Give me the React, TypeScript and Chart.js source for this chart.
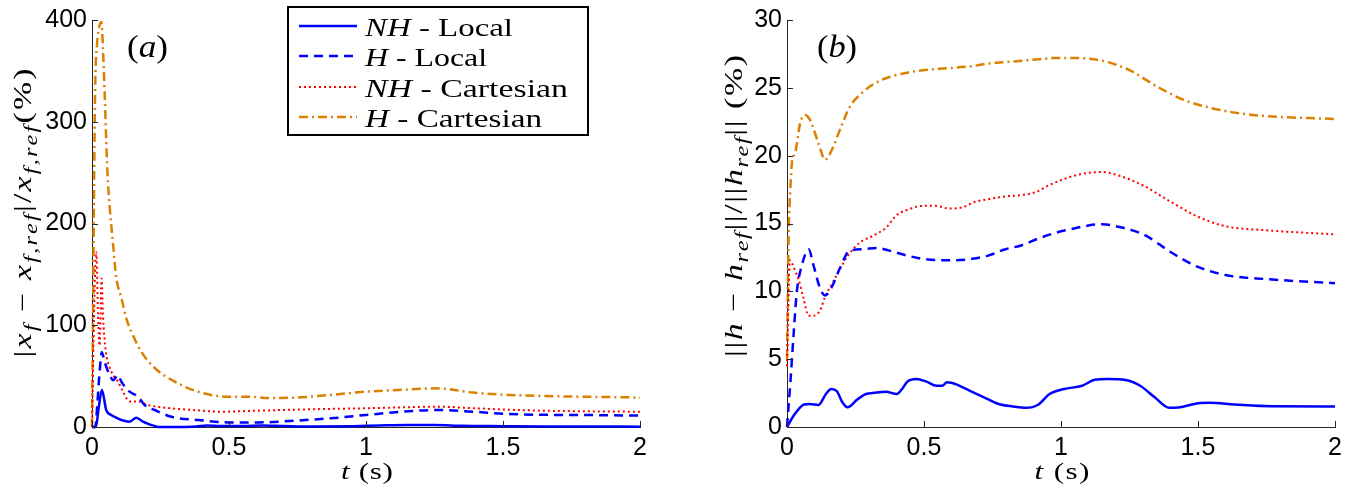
import React, { useEffect, useRef } from 'react';
import { Chart, registerables } from 'chart.js';
Chart.register(...registerables);

const BLUE = '#0000FF';
const RED = '#FF0000';
const ORANGE = '#DB8000';
const AXIS = '#262626';
const SANS = '"Liberation Sans", Arial, Helvetica, sans-serif';
const SERIF = '"Liberation Serif", "Times New Roman", serif';

const xTicks = [0, 0.5, 1, 1.5, 2];
const aYTicks = [0, 100, 200, 300, 400];
const bYTicks = [0, 5, 10, 15, 20, 25, 30];

const seriesNames = ['NH - Local', 'H - Local', 'NH - Cartesian', 'H - Cartesian'];

// ---------- Panel (a): |x_f - x_f,ref| / x_f,ref (%) ----------
const aNHLocalT = [0, 0.014, 0.025, 0.036, 0.052, 0.07, 0.09, 0.107, 0.137, 0.162, 0.186, 0.21, 0.229, 0.24, 0.3, 0.38, 0.42, 0.47, 0.55, 0.62, 0.7, 0.8, 0.95, 1.05, 1.15, 1.25, 1.35, 1.5, 1.65, 1.8, 2.0];
const aNHLocalV = [0, 0, 20, 36.4, 16.7, 11.8, 9, 6.9, 5.2, 9.2, 5.2, 2.6, 1, 0, 0, 0.5, 1.5, 1, 1, 1.5, 1, 0.5, 0.8, 1.5, 2, 2, 1.2, 0.8, 0.5, 0.5, 0.3];

const aHLocalT = [0, 0.012, 0.02, 0.028, 0.036, 0.045, 0.055, 0.065, 0.077, 0.095, 0.107, 0.137, 0.168, 0.192, 0.229, 0.29, 0.387, 0.496, 0.608, 0.738, 0.869, 1.0, 1.13, 1.26, 1.39, 1.52, 1.65, 1.78, 2.0];
const aHLocalV = [0, 0, 25, 55, 73.5, 65, 57, 51, 46, 51, 44.6, 34.7, 29.8, 21.6, 16.7, 10, 6.9, 4.5, 4.5, 6.2, 8.5, 11.8, 15, 16.7, 15, 12.8, 12, 11.8, 11.2];

const aNHCartT = [0, 0.006, 0.011, 0.016, 0.022, 0.028, 0.035, 0.04, 0.05, 0.065, 0.08, 0.095, 0.113, 0.137, 0.168, 0.204, 0.29, 0.38, 0.47, 0.6, 0.738, 0.87, 1.0, 1.13, 1.26, 1.39, 1.52, 1.65, 1.78, 2.0];
const aNHCartV = [0, 90, 150, 172, 110, 80, 146, 110, 75, 58, 50, 44.6, 34.7, 25, 25, 21.6, 18.4, 16.5, 15, 16, 17, 17.8, 18.4, 19.3, 20, 18.5, 17, 16, 15.5, 15];

const aHCartT = [0, 0.004, 0.008, 0.012, 0.018, 0.024, 0.034, 0.04, 0.046, 0.052, 0.058, 0.065, 0.077, 0.089, 0.107, 0.125, 0.143, 0.18, 0.229, 0.302, 0.387, 0.496, 0.569, 0.65, 0.738, 0.869, 1.0, 1.13, 1.26, 1.39, 1.52, 1.65, 1.78, 2.0];
const aHCartV = [0, 120, 250, 340, 375, 390, 398, 372, 330, 281, 241, 215, 179, 146, 127, 107, 94, 74, 58, 44.6, 34.7, 29.8, 29.8, 28.5, 28.8, 31.5, 34.7, 36.5, 38, 33.8, 31.5, 30.5, 29.8, 29];

// ---------- Panel (b): ||h - h_ref|| / ||h_ref|| (%) ----------
const bNHLocalT = [0, 0.029, 0.062, 0.082, 0.115, 0.142, 0.162, 0.182, 0.202, 0.221, 0.255, 0.288, 0.321, 0.361, 0.4, 0.42, 0.44, 0.473, 0.507, 0.546, 0.566, 0.584, 0.62, 0.666, 0.719, 0.772, 0.825, 0.871, 0.918, 0.958, 1.011, 1.077, 1.123, 1.17, 1.236, 1.289, 1.342, 1.395, 1.435, 1.501, 1.541, 1.634, 1.767, 2.0];
const bNHLocalV = [0, 0.97, 1.66, 1.7, 1.63, 2.43, 2.8, 2.63, 1.83, 1.46, 2.0, 2.43, 2.53, 2.6, 2.43, 2.8, 3.36, 3.53, 3.36, 3.04, 3.04, 3.29, 3.12, 2.68, 2.19, 1.7, 1.51, 1.41, 1.66, 2.43, 2.8, 3.04, 3.48, 3.53, 3.46, 3.04, 2.19, 1.41, 1.46, 1.75, 1.78, 1.66, 1.53, 1.51];

const bHLocalT = [0, 0.012, 0.024, 0.036, 0.054, 0.079, 0.097, 0.121, 0.139, 0.163, 0.193, 0.229, 0.278, 0.326, 0.374, 0.435, 0.495, 0.556, 0.616, 0.676, 0.737, 0.797, 0.857, 0.918, 0.978, 1.04, 1.1, 1.15, 1.2, 1.3, 1.4, 1.45, 1.5, 1.6, 1.75, 2.0];
const bHLocalV = [0, 3.2, 6.8, 10, 11.9, 13.1, 11.9, 10.2, 9.7, 10.3, 11.7, 13.0, 13.1, 13.2, 13.0, 12.65, 12.4, 12.3, 12.3, 12.4, 12.65, 13.1, 13.4, 13.9, 14.3, 14.6, 14.85, 14.95, 14.8, 14.2, 12.9, 12.3, 11.8, 11.2, 10.9, 10.6];

const bNHCartT = [0, 0.005, 0.01, 0.02, 0.03, 0.042, 0.06, 0.079, 0.097, 0.121, 0.139, 0.163, 0.187, 0.223, 0.266, 0.314, 0.362, 0.399, 0.447, 0.495, 0.543, 0.592, 0.64, 0.688, 0.737, 0.797, 0.857, 0.906, 0.954, 1.0, 1.063, 1.15, 1.2, 1.3, 1.4, 1.5, 1.6, 1.75, 2.0];
const bNHCartV = [4.5, 9, 12.3, 12.0, 11.5, 10.9, 9.5, 8.2, 8.2, 8.6, 9.6, 10.5, 11.4, 12.65, 13.6, 14.1, 14.7, 15.6, 16.06, 16.3, 16.3, 16.1, 16.2, 16.6, 16.8, 17.0, 17.1, 17.3, 17.8, 18.2, 18.6, 18.8, 18.6, 17.8, 16.6, 15.5, 14.8, 14.5, 14.2];

const bHCartT = [0, 0.006, 0.012, 0.018, 0.03, 0.048, 0.066, 0.085, 0.115, 0.139, 0.163, 0.193, 0.229, 0.278, 0.326, 0.374, 0.435, 0.495, 0.556, 0.616, 0.676, 0.737, 0.797, 0.857, 0.918, 0.978, 1.05, 1.15, 1.25, 1.35, 1.45, 1.55, 1.7, 2.0];
const bHCartV = [5, 14.1, 17.5, 19.5, 20.2, 22.4, 23.0, 22.6, 20.9, 19.7, 20.4, 21.9, 23.6, 24.7, 25.4, 25.8, 26.1, 26.3, 26.4, 26.5, 26.6, 26.8, 26.9, 27.0, 27.1, 27.2, 27.2, 27.0, 26.3, 25.1, 24.1, 23.5, 23.0, 22.7];

// ---------- styles ----------
const STYLES = [
  { color: BLUE, dash: [] as number[], width: 2.5 },
  { color: BLUE, dash: [9, 6], width: 2.5 },
  { color: RED, dash: [2, 3], width: 2 },
  { color: ORANGE, dash: [9, 4, 2, 4], width: 2.5 },
];

type Seg = { t: string; it?: boolean; sub?: boolean };

function fontFor(seg: Seg, size: number) {
  const s = seg.sub ? size * 0.72 : size;
  return `${seg.it ? 'italic ' : ''}${s}px ${SERIF}`;
}

// draws mixed italic/upright/subscript text; glyphs are widened a little (like the
// wide Computer Modern face of the original) and the remaining gap is spread evenly
function drawRich(ctx: CanvasRenderingContext2D, segs: Seg[], x: number, y: number, size: number, align: 'left' | 'center', target?: number, maxStretch = 1.3) {
  const chars: { ch: string; font: string; w: number; sub: boolean }[] = [];
  segs.forEach((seg) => {
    const f = fontFor(seg, size);
    ctx.font = f;
    for (const ch of seg.t) chars.push({ ch, font: f, w: ctx.measureText(ch).width, sub: !!seg.sub });
  });
  const nat = chars.reduce((a, c) => a + c.w, 0);
  let stretch = 1;
  let extra = 0;
  if (target !== undefined) {
    stretch = Math.min(maxStretch, target / nat);
    extra = chars.length > 1 ? (target - nat * stretch) / (chars.length - 1) : 0;
  }
  const total = target !== undefined ? target : nat;
  let cx = align === 'center' ? x - total / 2 : x;
  ctx.textAlign = 'left';
  ctx.textBaseline = 'alphabetic';
  chars.forEach((c) => {
    ctx.font = c.font;
    ctx.save();
    ctx.translate(cx, c.sub ? y + size * 0.22 : y);
    ctx.scale(stretch, 1);
    ctx.fillText(c.ch, 0, 0);
    ctx.restore();
    cx += c.w * stretch + extra;
  });
}

function pts(t: number[], v: number[]) {
  return t.map((x, i) => ({ x, y: v[i] }));
}

function makeDatasets(groups: [number[], number[]][]) {
  return groups.map(([t, v], i) => ({
    label: seriesNames[i],
    data: pts(t, v),
    borderColor: STYLES[i].color,
    borderWidth: STYLES[i].width,
    borderDash: STYLES[i].dash,
    pointRadius: 0,
    fill: false,
    cubicInterpolationMode: 'monotone' as const,
    clip: false as const,
  }));
}

const inTicks = {
  id: 'inTicks',
  afterDatasetsDraw(chart: any) {
    const { ctx, chartArea, scales } = chart;
    ctx.save();
    ctx.strokeStyle = AXIS;
    ctx.lineWidth = 1;
    ctx.setLineDash([]);
    scales.x.ticks.forEach((tk: any) => {
      const px = Math.round(scales.x.getPixelForValue(tk.value)) + 0.5;
      ctx.beginPath();
      ctx.moveTo(px, chartArea.bottom);
      ctx.lineTo(px, chartArea.bottom - 6);
      ctx.stroke();
    });
    scales.y.ticks.forEach((tk: any) => {
      const py = Math.round(scales.y.getPixelForValue(tk.value)) + 0.5;
      ctx.beginPath();
      ctx.moveTo(chartArea.left, py);
      ctx.lineTo(chartArea.left + 6, py);
      ctx.stroke();
    });
    ctx.restore();
  },
};

function baseOptions(yMax: number, yTicks: number[], yWidth: number, padTop: number, padRight: number) {
  return {
    responsive: false,
    animation: false as const,
    devicePixelRatio: 1,
    layout: { padding: { left: 0, top: padTop, right: padRight, bottom: 0 } },
    plugins: { legend: { display: false }, tooltip: { enabled: false } },
    scales: {
      x: {
        type: 'linear' as const,
        min: 0,
        max: 2,
        afterBuildTicks: (s: any) => { s.ticks = xTicks.map((v) => ({ value: v })); },
        afterFit: (s: any) => { s.height = 62; },
        grid: { display: true, drawOnChartArea: false, drawTicks: false },
        border: { display: true, color: AXIS, width: 1 },
        ticks: { color: '#000', padding: 6, font: { family: SANS, size: 25 }, maxRotation: 0, callback: (v: any) => String(v) },
      },
      y: {
        type: 'linear' as const,
        min: 0,
        max: yMax,
        afterBuildTicks: (s: any) => { s.ticks = yTicks.map((v) => ({ value: v })); },
        afterFit: (s: any) => { s.width = yWidth; },
        grid: { display: true, drawOnChartArea: false, drawTicks: false },
        border: { display: true, color: AXIS, width: 1 },
        ticks: { color: '#000', padding: 5, font: { family: SANS, size: 25 }, callback: (v: any) => String(v) },
      },
    },
  };
}

const xTitle: Seg[] = [{ t: 't', it: true }, { t: ' (s)' }];

const aYTitle: Seg[] = [
  { t: '|' }, { t: 'x', it: true }, { t: 'f', it: true, sub: true }, { t: ' − ' },
  { t: 'x', it: true }, { t: 'f,ref', it: true, sub: true }, { t: '|' }, { t: '/' },
  { t: 'x', it: true }, { t: 'f,ref', it: true, sub: true }, { t: '(%)' },
];

const bYTitle: Seg[] = [
  { t: '||' }, { t: 'h', it: true }, { t: ' − ' }, { t: 'h', it: true }, { t: 'ref', it: true, sub: true },
  { t: '||' }, { t: '/' }, { t: '||' }, { t: 'h', it: true }, { t: 'ref', it: true, sub: true },
  { t: '||' }, { t: ' (%)' },
];

const legendRows: Seg[][] = [
  [{ t: 'NH', it: true }, { t: ' - Local' }],
  [{ t: 'H', it: true }, { t: ' - Local' }],
  [{ t: 'NH', it: true }, { t: ' - Cartesian' }],
  [{ t: 'H', it: true }, { t: ' - Cartesian' }],
];
const legendWidths = [148, 122, 203, 177];

function rotatedTitle(ctx: CanvasRenderingContext2D, segs: Seg[], cx: number, cy: number, size: number, target: number) {
  ctx.save();
  ctx.translate(cx, cy);
  ctx.rotate(-Math.PI / 2);
  ctx.fillStyle = '#000';
  drawRich(ctx, segs, 0, size * 0.3, size, 'center', target);
  ctx.restore();
}

export default function App() {
  const refA = useRef<HTMLCanvasElement>(null);
  const refB = useRef<HTMLCanvasElement>(null);

  useEffect(() => {
    const textA = {
      id: 'textA',
      afterDraw(chart: any) {
        const ctx: CanvasRenderingContext2D = chart.ctx;
        ctx.save();
        ctx.fillStyle = '#000';
        drawRich(ctx, xTitle, 367, 479, 24, 'center', 52);
        rotatedTitle(ctx, aYTitle, 23, 213, 26, 289);
        drawRich(ctx, [{ t: '(' }, { t: 'a', it: true }, { t: ')' }], 147.5, 57, 32, 'center', 41);
        // legend
        const bx = 288, by = 7, bw = 300, bh = 128;
        ctx.fillStyle = '#fff';
        ctx.fillRect(bx, by, bw, bh);
        ctx.strokeStyle = '#000';
        ctx.lineWidth = 2;
        ctx.setLineDash([]);
        ctx.strokeRect(bx, by, bw, bh);
        const rowsY = [26, 56, 87, 117];
        rowsY.forEach((ly, i) => {
          ctx.beginPath();
          ctx.strokeStyle = STYLES[i].color;
          ctx.lineWidth = STYLES[i].width;
          ctx.setLineDash(STYLES[i].dash);
          ctx.moveTo(299, ly);
          ctx.lineTo(357, ly);
          ctx.stroke();
          ctx.setLineDash([]);
          ctx.fillStyle = '#000';
          drawRich(ctx, legendRows[i], 365, ly + 10, 26, 'left', legendWidths[i]);
        });
        ctx.restore();
      },
    };
    const textB = {
      id: 'textB',
      afterDraw(chart: any) {
        const ctx: CanvasRenderingContext2D = chart.ctx;
        ctx.save();
        ctx.fillStyle = '#000';
        drawRich(ctx, xTitle, 382, 479, 24, 'center', 55);
        rotatedTitle(ctx, bYTitle, 54, 206, 26, 302);
        drawRich(ctx, [{ t: '(' }, { t: 'b', it: true }, { t: ')' }], 157, 57, 32, 'center', 40);
        ctx.restore();
      },
    };

    const chartA = new Chart(refA.current!, {
      type: 'line',
      data: {
        datasets: makeDatasets([
          [aNHLocalT, aNHLocalV],
          [aHLocalT, aHLocalV],
          [aNHCartT, aNHCartV],
          [aHCartT, aHCartV],
        ]),
      },
      options: baseOptions(400, aYTicks, 92, 20, 40) as any,
      plugins: [inTicks, textA],
    });
    const chartB = new Chart(refB.current!, {
      type: 'line',
      data: {
        datasets: makeDatasets([
          [bNHLocalT, bNHLocalV],
          [bHLocalT, bHLocalV],
          [bNHCartT, bNHCartV],
          [bHCartT, bHCartV],
        ]),
      },
      options: baseOptions(30, bYTicks, 107, 16, 21) as any,
      plugins: [inTicks, textB],
    });
    return () => {
      chartA.destroy();
      chartB.destroy();
    };
  }, []);

  return (
    <div style={{ position: 'absolute', left: 0, top: 0, width: 1356, height: 489, background: '#fff', overflow: 'hidden' }}>
      <canvas ref={refA} width={680} height={489} style={{ position: 'absolute', left: 0, top: 0, width: 680, height: 489 }} />
      <canvas ref={refB} width={676} height={489} style={{ position: 'absolute', left: 680, top: 0, width: 676, height: 489 }} />
    </div>
  );
}
